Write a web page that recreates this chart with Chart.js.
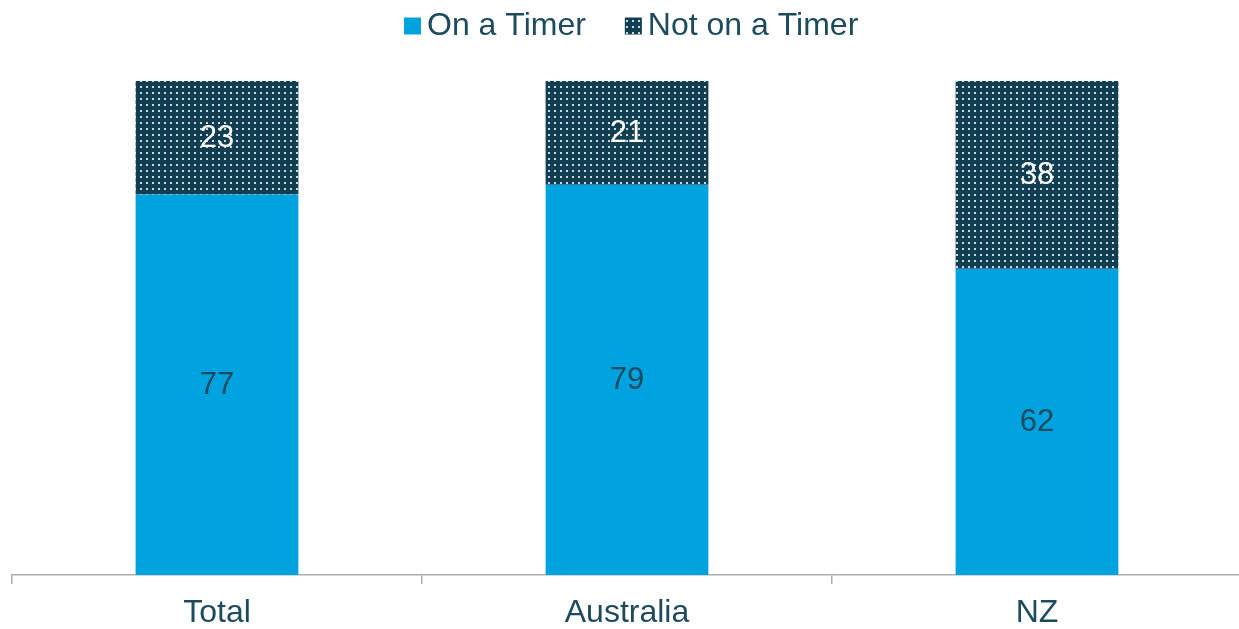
<!DOCTYPE html>
<html>
<head>
<meta charset="utf-8">
<script src="https://cdn.jsdelivr.net/npm/chart.js@4"></script>
<style>
html,body{margin:0;padding:0;background:#fff;overflow:hidden;}
#wrap{width:1242px;height:629px;position:relative;}
</style>
</head>
<body>
<div id="wrap"><canvas id="c" width="1242" height="629"></canvas></div>
<script>
const categories = ["Total", "Australia", "NZ"];
const seriesNames = ["On a Timer", "Not on a Timer"];
const onTimer = [77, 79, 62];
const notOnTimer = [23, 21, 38];

const BLUE = "#00A3E0";
const NAVY = "#123E52";
const TEXT = "#1C4A5E";
const GRAY = "#A9AEB1";
const FONT = "'Liberation Sans', Arial, sans-serif";

function makePattern() {
  const t = document.createElement("canvas");
  t.width = 6; t.height = 6;
  const g = t.getContext("2d");
  g.fillStyle = NAVY; g.fillRect(0, 0, 6, 6);
  g.fillStyle = "rgba(255,255,255,0.8)";
  g.fillRect(2, 2, 2, 2);
  return document.getElementById("c").getContext("2d").createPattern(t, "repeat");
}
const pattern = makePattern();

const labelPlugin = {
  id: "barLabels",
  afterDatasetsDraw(chart) {
    const ctx = chart.ctx;
    ctx.save();
    ctx.font = "31px " + FONT;
    ctx.textAlign = "center";
    ctx.textBaseline = "middle";
    chart.data.datasets.forEach((ds, di) => {
      const meta = chart.getDatasetMeta(di);
      meta.data.forEach((bar, i) => {
        const y = (bar.y + bar.base) / 2;
        ctx.fillStyle = di === 0 ? TEXT : "#FFFFFF";
        ctx.fillText(String(ds.data[i]), bar.x, y + 1);
      });
    });
    ctx.restore();
  }
};

const legendPlugin = {
  id: "customLegend",
  afterDraw(chart) {
    const ctx = chart.ctx;
    ctx.save();
    ctx.font = "32px " + FONT;
    ctx.textBaseline = "middle";
    const box = 17, gap = 6, itemGap = 39;
    const fills = [BLUE, pattern];
    const widths = seriesNames.map(n => box + gap + ctx.measureText(n).width);
    let x = 404;
    const y = 26;
    seriesNames.forEach((n, i) => {
      ctx.fillStyle = fills[i];
      ctx.fillRect(x, y - box / 2, box, box);
      ctx.fillStyle = TEXT;
      ctx.fillText(n, x + box + gap, y);
      x += widths[i] + itemGap;
    });
    ctx.restore();
  }
};

new Chart(document.getElementById("c"), {
  type: "bar",
  data: {
    labels: categories,
    datasets: [
      { label: seriesNames[0], data: onTimer, backgroundColor: BLUE, borderWidth: 0 },
      { label: seriesNames[1], data: notOnTimer, backgroundColor: pattern, borderWidth: 0 }
    ]
  },
  options: {
    responsive: false,
    animation: false,
    devicePixelRatio: 1,
    layout: { padding: { top: 81, left: 12, right: 0, bottom: 0 } },
    datasets: { bar: { barPercentage: 1, categoryPercentage: 0.397 } },
    plugins: { legend: { display: false }, tooltip: { enabled: false } },
    scales: {
      x: {
        stacked: true,
        offset: true,
        border: { display: true, color: GRAY, width: 1.5 },
        grid: { display: true, drawOnChartArea: false, drawTicks: true, tickLength: 9, color: GRAY, lineWidth: 1.5, offset: true },
        ticks: { color: TEXT, font: { family: FONT, size: 32 }, padding: 10 },
        afterFit(s) { s.height = 54; }
      },
      y: {
        stacked: true,
        display: false,
        min: 0,
        max: 100
      }
    }
  },
  plugins: [labelPlugin, legendPlugin]
});
</script>
</body>
</html>
